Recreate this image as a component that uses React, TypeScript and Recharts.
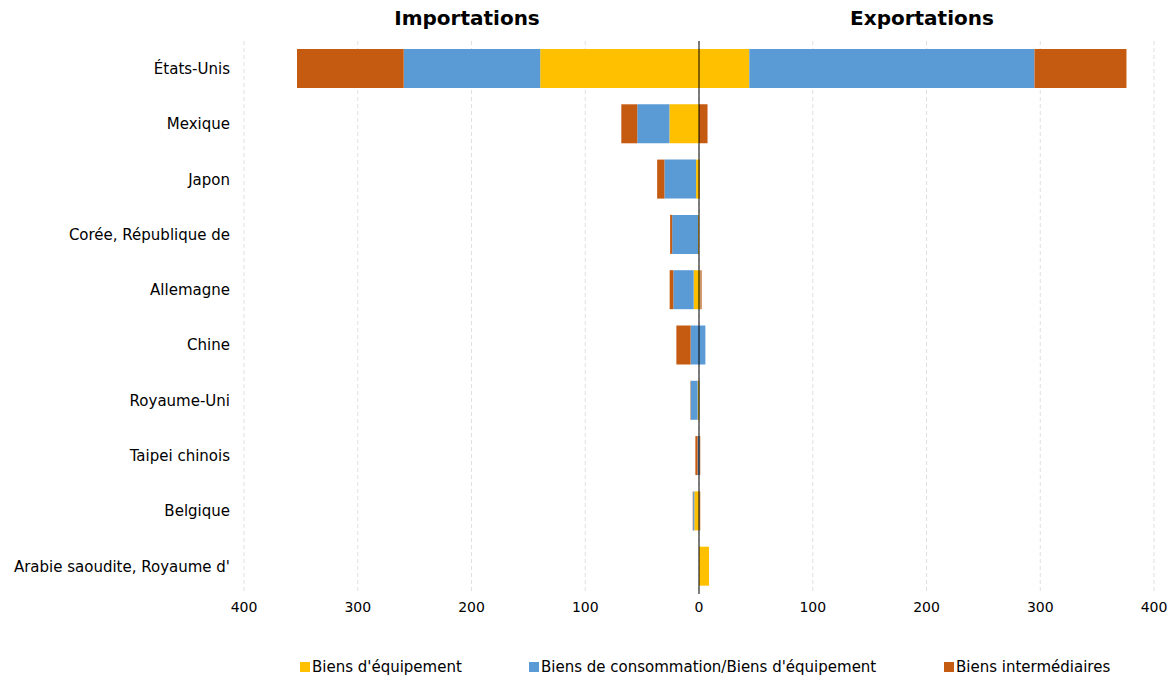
import React from "react";
import {
  BarChart,
  Bar,
  XAxis,
  YAxis,
  CartesianGrid,
  ReferenceLine,
} from "recharts";

const countries = [
  "États-Unis",
  "Mexique",
  "Japon",
  "Corée, République de",
  "Allemagne",
  "Chine",
  "Royaume-Uni",
  "Taipei chinois",
  "Belgique",
  "Arabie saoudite, Royaume d'",
];

// importations (shown on the left)
const impEquipement = [139.6, 26, 2.6, 0.8, 4.7, 0, 1.2, 0, 4.1, 0];
const impConsommation = [120, 28.3, 27.8, 22.8, 17.9, 7.4, 6.1, 1.2, 1.1, 0];
const impIntermediaires = [93.8, 14, 6.4, 1.8, 3.2, 12.5, 0.3, 2, 0.3, 0];

// exportations (shown on the right)
const expEquipement = [44.2, 0, 0.5, 0, 1, 0, 0.3, 0, 0.3, 8.8];
const expConsommation = [250.7, 0, 0, 0, 0.3, 5.6, 0.3, 0.5, 0.3, 0];
const expIntermediaires = [80.9, 7.5, 0.3, 0, 1, 0, 0, 0.6, 0.5, 0];

const xTicks = [-400, -300, -200, -100, 0, 100, 200, 300, 400];

const YELLOW = "#FFC000";
const BLUE = "#5B9BD5";
const ORANGE = "#C55A11";
const FONT = "'DejaVu Sans', Verdana, sans-serif";

const legendItems = [
  { label: "Biens d'équipement", color: YELLOW, left: 300 },
  { label: "Biens de consommation/Biens d'équipement", color: BLUE, left: 529 },
  { label: "Biens intermédiaires", color: ORANGE, left: 944 },
];

export default function App() {
  const data = countries.map((c, i) => ({
    pays: c,
    impEq: -impEquipement[i],
    impCo: -impConsommation[i],
    impIn: -impIntermediaires[i],
    expEq: expEquipement[i],
    expCo: expConsommation[i],
    expIn: expIntermediaires[i],
  }));

  const titleStyle: React.CSSProperties = {
    position: "absolute",
    top: 6,
    width: 240,
    textAlign: "center",
    fontSize: 20,
    fontWeight: "bold",
    color: "#000",
  };

  return (
    <div
      style={{
        position: "absolute",
        left: 0,
        top: 0,
        width: 1173,
        height: 678,
        background: "#fff",
        fontFamily: FONT,
      }}
    >
      <div style={{ ...titleStyle, left: 347 }}>Importations</div>
      <div style={{ ...titleStyle, left: 802 }}>Exportations</div>

      <BarChart
        width={1173}
        height={678}
        data={data}
        layout="vertical"
        stackOffset="sign"
        barSize={39}
        margin={{ top: 41, right: 19, bottom: 54, left: 0 }}
      >
        <CartesianGrid
          horizontal={false}
          stroke="#e0e0e0"
          strokeDasharray="4 3"
        />
        <XAxis
          type="number"
          domain={[-400, 400]}
          ticks={xTicks}
          tickFormatter={(v: number) => String(Math.abs(v))}
          axisLine={false}
          tickLine={false}
          height={30}
          tick={{ fill: "#000", fontSize: 14, fontFamily: FONT }}
        />
        <YAxis
          type="category"
          dataKey="pays"
          width={244}
          axisLine={false}
          tickLine={false}
          tickMargin={8}
          tick={{ fill: "#000", fontSize: 15, fontFamily: FONT }}
        />
        <Bar dataKey="impEq" stackId="s" fill={YELLOW} isAnimationActive={false} />
        <Bar dataKey="impCo" stackId="s" fill={BLUE} isAnimationActive={false} />
        <Bar dataKey="impIn" stackId="s" fill={ORANGE} isAnimationActive={false} />
        <Bar dataKey="expEq" stackId="s" fill={YELLOW} isAnimationActive={false} />
        <Bar dataKey="expCo" stackId="s" fill={BLUE} isAnimationActive={false} />
        <Bar dataKey="expIn" stackId="s" fill={ORANGE} isAnimationActive={false} />
        <ReferenceLine x={0} stroke="#000" strokeWidth={1} />
      </BarChart>

      {legendItems.map((it) => (
        <div
          key={it.label}
          style={{
            position: "absolute",
            top: 658,
            left: it.left,
            display: "flex",
            alignItems: "center",
            fontSize: 15,
            color: "#000",
            whiteSpace: "nowrap",
          }}
        >
          <span
            style={{
              display: "inline-block",
              width: 10,
              height: 10,
              background: it.color,
              marginRight: 2,
            }}
          />
          {it.label}
        </div>
      ))}
    </div>
  );
}
